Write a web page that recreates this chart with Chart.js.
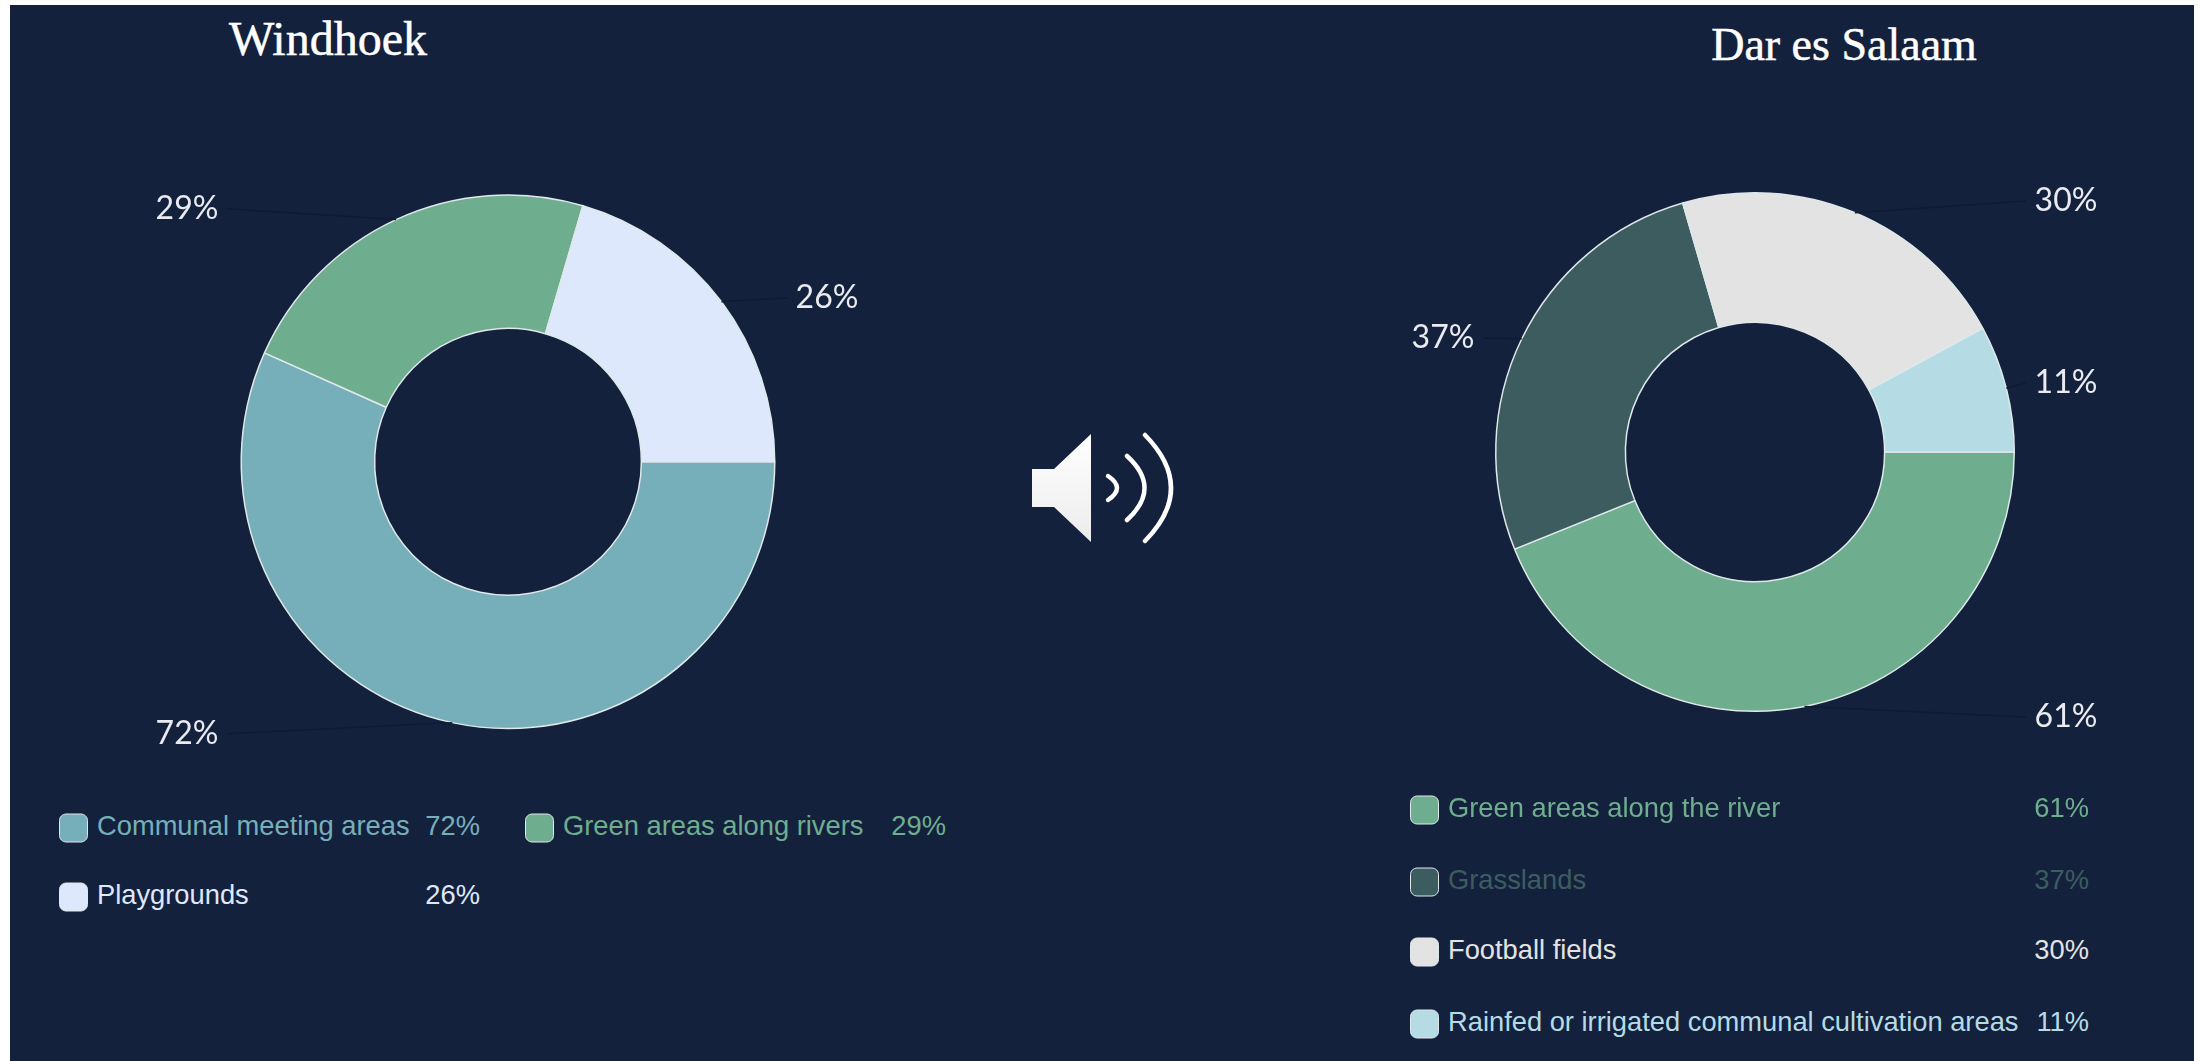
<!DOCTYPE html>
<html>
<head>
<meta charset="utf-8">
<title>Windhoek and Dar es Salaam</title>
<script src="https://cdn.jsdelivr.net/npm/chart.js@4"></script>
<style>
    html, body { margin: 0; padding: 0; background: #fff; }
    body { width: 2201px; height: 1061px; overflow: hidden; position: relative; }
    .panel { position: absolute; left: 10px; top: 5px; width: 2184px; height: 1056px; background: #14213d; }
    canvas { position: absolute; }
    h2 {
        position: absolute; margin: 0; color: #fff; white-space: nowrap;
        font: 400 46px "Liberation Serif", serif; line-height: 56px;
        -webkit-text-stroke: 0.5px #fff;
        transform: translateX(-50%);
    }
    .swatch {
        position: absolute; width: 27px; height: 27px; border-radius: 7px;
        border: 1.5px solid #dfe8ea; transform: translateY(-50%);
    }
    .legend-text {
        position: absolute; white-space: nowrap; line-height: 32px;
        font: 400 27.3px "Liberation Sans", Arial, sans-serif;
        transform: translateY(-50%);
    }
    .legend-value { text-align: right; transform: translate(-100%, -50%); }
    .speaker { position: absolute; left: 1020px; top: 425px; }
</style>
</head>
<body>
<div class="panel"></div>
<h2 style="left:328px;top:11px;font-size:48px">Windhoek</h2>
<h2 style="left:1844px;top:17px">Dar es Salaam</h2>

<canvas id="windhoekChart" width="990" height="800" style="left:10px;top:5px"></canvas>
<canvas id="daresChart" width="954" height="800" style="left:1240px;top:5px"></canvas>

<!-- speaker icon between the two charts -->
<svg class="speaker" width="170" height="130" viewBox="1020 425 170 130">
    <defs>
        <linearGradient id="cone" x1="0" y1="0" x2="0" y2="1">
            <stop offset="0" stop-color="#ffffff"/>
            <stop offset="1" stop-color="#ececec"/>
        </linearGradient>
    </defs>
    <path d="M1032 469 H1054 L1091 434 V542 L1054 507 H1032 Z" fill="url(#cone)"/>
    <g fill="none" stroke="#fff" stroke-width="4.5" stroke-linecap="round">
        <path d="M1108 476 Q1126 488 1108 500"/>
        <path d="M1127 456 Q1162 488 1127 520"/>
        <path d="M1145 435 Q1197 488 1145 541"/>
    </g>
</svg>

<script>
// Windhoek
const windhoekLabels = ['Communal meeting areas', 'Green areas along rivers', 'Playgrounds'];
const windhoekValues = [72, 29, 26];
const windhoekColors = ['#76afb9', '#6fad8f', '#dde8fc'];

// Dar es Salaam
const daresLabels = ['Green areas along the river', 'Grasslands', 'Football fields', 'Rainfed or irrigated communal cultivation areas'];
const daresValues = [61, 37, 30, 11];
const daresColors = ['#6fad8f', '#3d5c60', '#e3e3e3', '#b5dbe5'];

const LEADER_COLOR = '#0f1a33';

// Draws the percent label of each slice and a thin leader from the middle of its arc
const sliceLabels = {
    id: 'sliceLabels',
    afterDatasetsDraw(chart, args, opts) {
        const ctx = chart.ctx;
        const meta = chart.getDatasetMeta(0);
        ctx.save();
        ctx.font = '32px Lato, sans-serif';
        ctx.textAlign = 'center';
        ctx.textBaseline = 'middle';
        meta.data.forEach((arc, i) => {
            const mid = (arc.startAngle + arc.endAngle) / 2;
            const ax = arc.x + Math.cos(mid) * arc.outerRadius;
            const ay = arc.y + Math.sin(mid) * arc.outerRadius;
            const lx = arc.x + opts.offsets[i][0];
            const ly = arc.y + opts.offsets[i][1];
            const side = lx < arc.x ? 1 : -1;
            ctx.strokeStyle = LEADER_COLOR;
            ctx.lineWidth = 1.5;
            ctx.beginPath();
            ctx.moveTo(ax, ay);
            ctx.lineTo(lx + side * 40, ly);
            ctx.stroke();
            ctx.fillStyle = '#e9ebf0';
            ctx.fillText(chart.data.datasets[0].data[i] + '%', lx, ly);
        });
        ctx.restore();
    }
};

function makeDonut(canvas, labels, values, colors, padding, offsets) {
    return new Chart(canvas, {
        type: 'doughnut',
        data: {
            labels: labels,
            datasets: [{
                data: values,
                backgroundColor: colors,
                borderColor: '#dfe8ea',
                borderWidth: 1.5
            }]
        },
        options: {
            responsive: false,
            animation: false,
            rotation: 90,
            cutout: '50%',
            layout: { padding: padding },
            plugins: {
                legend: { display: false },
                tooltip: { enabled: false },
                sliceLabels: { offsets: offsets }
            }
        },
        plugins: [sliceLabels]
    });
}

// Legend rows are plain HTML: swatch, coloured name, right aligned value
function addLegendRow(label, value, color, swatchX, textX, valueX, y) {
    const textY = y - 2.5;

    const swatch = document.createElement('div');
    swatch.className = 'swatch';
    swatch.style.cssText = `left:${swatchX}px;top:${y}px;background:${color}`;
    document.body.appendChild(swatch);

    const name = document.createElement('div');
    name.className = 'legend-text';
    name.textContent = label;
    name.style.cssText = `left:${textX}px;top:${textY}px;color:${color}`;
    document.body.appendChild(name);

    const val = document.createElement('div');
    val.className = 'legend-text legend-value';
    val.textContent = value + '%';
    val.style.cssText = `left:${valueX}px;top:${textY}px;color:${color}`;
    document.body.appendChild(val);
}

makeDonut(document.getElementById('windhoekChart'), windhoekLabels, windhoekValues, windhoekColors,
    { left: 230.5, right: 224.5, top: 189, bottom: 75.5 },
    [[-321, 272], [-321, -253], [319, -164]]);

makeDonut(document.getElementById('daresChart'), daresLabels, daresValues, daresColors,
    { left: 255, right: 179, top: 187, bottom: 93 },
    [[311, 265], [-312, -114], [311, -251], [311, -69]]);

addLegendRow(windhoekLabels[0], windhoekValues[0], windhoekColors[0], 59, 97, 480, 828);
addLegendRow(windhoekLabels[1], windhoekValues[1], windhoekColors[1], 525, 563, 946, 828);
addLegendRow(windhoekLabels[2], windhoekValues[2], windhoekColors[2], 59, 97, 480, 897);

const daresRowY = [810, 882, 952, 1024];
daresLabels.forEach((label, i) => {
    addLegendRow(label, daresValues[i], daresColors[i], 1410, 1448, 2089, daresRowY[i]);
});
</script>
</body>
</html>
